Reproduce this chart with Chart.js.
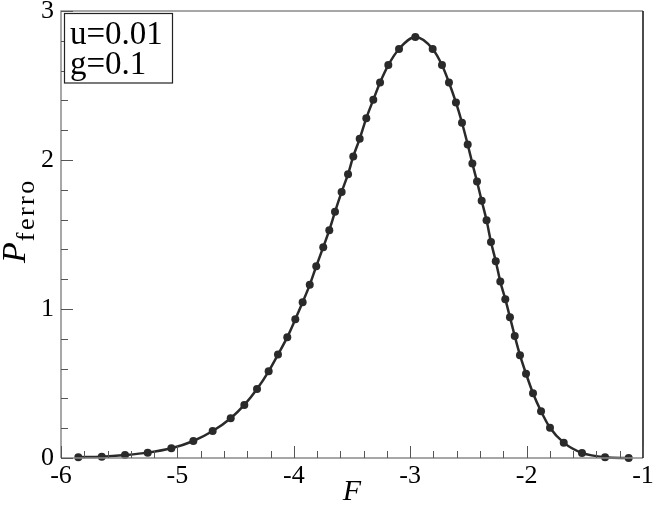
<!DOCTYPE html>
<html>
<head>
<meta charset="utf-8">
<style>
html,body{margin:0;padding:0;background:#fff;}
#wrap{width:654px;height:511px;position:relative;}
</style>
<script src="https://cdn.jsdelivr.net/npm/chart.js@4.4.1/dist/chart.umd.min.js"></script>
</head>
<body>
<div id="wrap"><canvas id="c" width="654" height="511"></canvas></div>
<script>
const fValues = [-5.851,-5.650,-5.450,-5.255,-5.052,-4.863,-4.697,-4.542,-4.425,-4.316,
  -4.216,-4.136,-4.056,-3.987,-3.924,-3.863,-3.807,-3.747,-3.695,-3.646,
  -3.589,-3.534,-3.489,-3.434,-3.377,-3.317,-3.259,-3.188,-3.096,-2.956,
  -2.807,-2.727,-2.667,-2.607,-2.555,-2.506,-2.466,-2.426,-2.386,-2.344,
  -2.306,-2.265,-2.226,-2.183,-2.143,-2.102,-2.057,-2.005,-1.945,-1.876,
  -1.799,-1.681,-1.524,-1.326,-1.123];
const pValues = [0.005,0.009,0.020,0.036,0.065,0.114,0.181,0.267,0.356,0.463,
  0.582,0.694,0.811,0.931,1.046,1.162,1.287,1.415,1.529,1.652,
  1.786,1.905,2.024,2.142,2.281,2.404,2.520,2.637,2.745,2.825,
  2.745,2.637,2.520,2.386,2.250,2.104,1.977,1.856,1.726,1.595,
  1.449,1.321,1.184,1.066,0.945,0.819,0.690,0.566,0.435,0.314,
  0.203,0.103,0.034,0.005,0.000];
const xTickValues = [-6,-5,-4,-3,-2,-1];
const yTickValues = [0,1,2,3];
const legendLines = ["u=0.01","g=0.1"];
const xTitle = "F";
const yTitleMain = "P";
const yTitleSub = "ferro";

const SERIF = "'Liberation Serif','DejaVu Serif',serif";

const points = fValues.map((f,i)=>({x:f,y:pValues[i]}));

const decor = {
  id:'decor',
  afterDraw(chart){
    const ctx = chart.ctx, a = chart.chartArea;
    const xs = chart.scales.x, ys = chart.scales.y;
    ctx.save();
    // frame
    ctx.lineWidth = 1.5;
    ctx.strokeStyle = '#8a8a8a';
    ctx.beginPath();
    ctx.moveTo(a.left, a.bottom); ctx.lineTo(a.left, a.top); ctx.lineTo(a.right, a.top);
    ctx.moveTo(a.left, a.bottom); ctx.lineTo(a.right, a.bottom);
    ctx.stroke();
    ctx.strokeStyle = '#111';
    ctx.beginPath();
    ctx.moveTo(a.right, a.top); ctx.lineTo(a.right, a.bottom);
    ctx.stroke();
    // inward ticks
    ctx.lineWidth = 1;
    ctx.strokeStyle = '#555';
    ctx.beginPath();
    for (let k=0;k<=25;k++){
      const v = -6 + k*0.2;
      const px = Math.round(xs.getPixelForValue(v))+0.5;
      const len = (k%5===0)?12:7;
      ctx.moveTo(px, a.bottom); ctx.lineTo(px, a.bottom-len);
    }
    for (let k=0;k<=15;k++){
      const v = k*0.2;
      const py = Math.round(ys.getPixelForValue(v))+0.5;
      const len = (k%5===0)?12:7;
      ctx.moveTo(a.left, py); ctx.lineTo(a.left+len, py);
    }
    ctx.stroke();
    // legend box
    ctx.fillStyle = '#fff';
    ctx.fillRect(64.5,13.5,108,69.5);
    ctx.strokeStyle = '#222';
    ctx.lineWidth = 1.2;
    ctx.strokeRect(64.5,13.5,108,69.5);
    ctx.fillStyle = '#000';
    ctx.font = '33px ' + SERIF;
    ctx.textAlign = 'left';
    ctx.textBaseline = 'alphabetic';
    ctx.fillText(legendLines[0], 70, 44);
    ctx.fillText(legendLines[1], 70, 74);
    // x title
    ctx.font = 'italic 30px ' + SERIF;
    ctx.textAlign = 'center';
    ctx.fillText(xTitle, 352, 500);
    // y title
    ctx.translate(25, 263);
    ctx.rotate(-Math.PI/2);
    ctx.textAlign = 'left';
    ctx.font = 'italic 34px ' + SERIF;
    ctx.fillText(yTitleMain, 0, 0);
    const w = ctx.measureText(yTitleMain).width;
    ctx.font = '26px ' + SERIF;
    try { ctx.letterSpacing = '2.5px'; } catch(e) {}
    ctx.fillText(yTitleSub, w + 1, 9);
    ctx.restore();
  }
};

new Chart(document.getElementById('c'), {
  type:'line',
  data:{datasets:[{
    data: points,
    borderColor:'#2a2a2a',
    backgroundColor:'#2a2a2a',
    borderWidth:2.5,
    pointRadius:4,
    pointHoverRadius:4,
    pointBackgroundColor:'#2a2a2a',
    pointBorderWidth:0,
    cubicInterpolationMode:'monotone',
    fill:false,
    clip:false
  }]},
  options:{
    responsive:false,
    animation:false,
    events:[],
    layout:{padding:{left:0,right:11,top:11,bottom:0}},
    plugins:{legend:{display:false},tooltip:{enabled:false},title:{display:false}},
    scales:{
      x:{
        type:'linear', min:-6, max:-1,
        afterFit(s){ s.height = 53; s.paddingLeft = 0; s.paddingRight = 0; },
        afterBuildTicks(s){ s.ticks = xTickValues.map(v=>({value:v})); },
        grid:{display:false, drawTicks:false},
        border:{display:false},
        ticks:{color:'#000', font:{family:SERIF, size:26}, padding:3, maxRotation:0, autoSkip:false,
          callback:(v)=>String(v)}
      },
      y:{
        type:'linear', min:0, max:3,
        afterFit(s){ s.width = 61; s.paddingTop = 0; s.paddingBottom = 0; },
        afterBuildTicks(s){ s.ticks = yTickValues.map(v=>({value:v})); },
        grid:{display:false, drawTicks:false},
        border:{display:false},
        ticks:{color:'#000', font:{family:SERIF, size:26}, padding:7, autoSkip:false,
          callback:(v)=>String(v)}
      }
    }
  },
  plugins:[decor]
});
</script>
</body>
</html>
